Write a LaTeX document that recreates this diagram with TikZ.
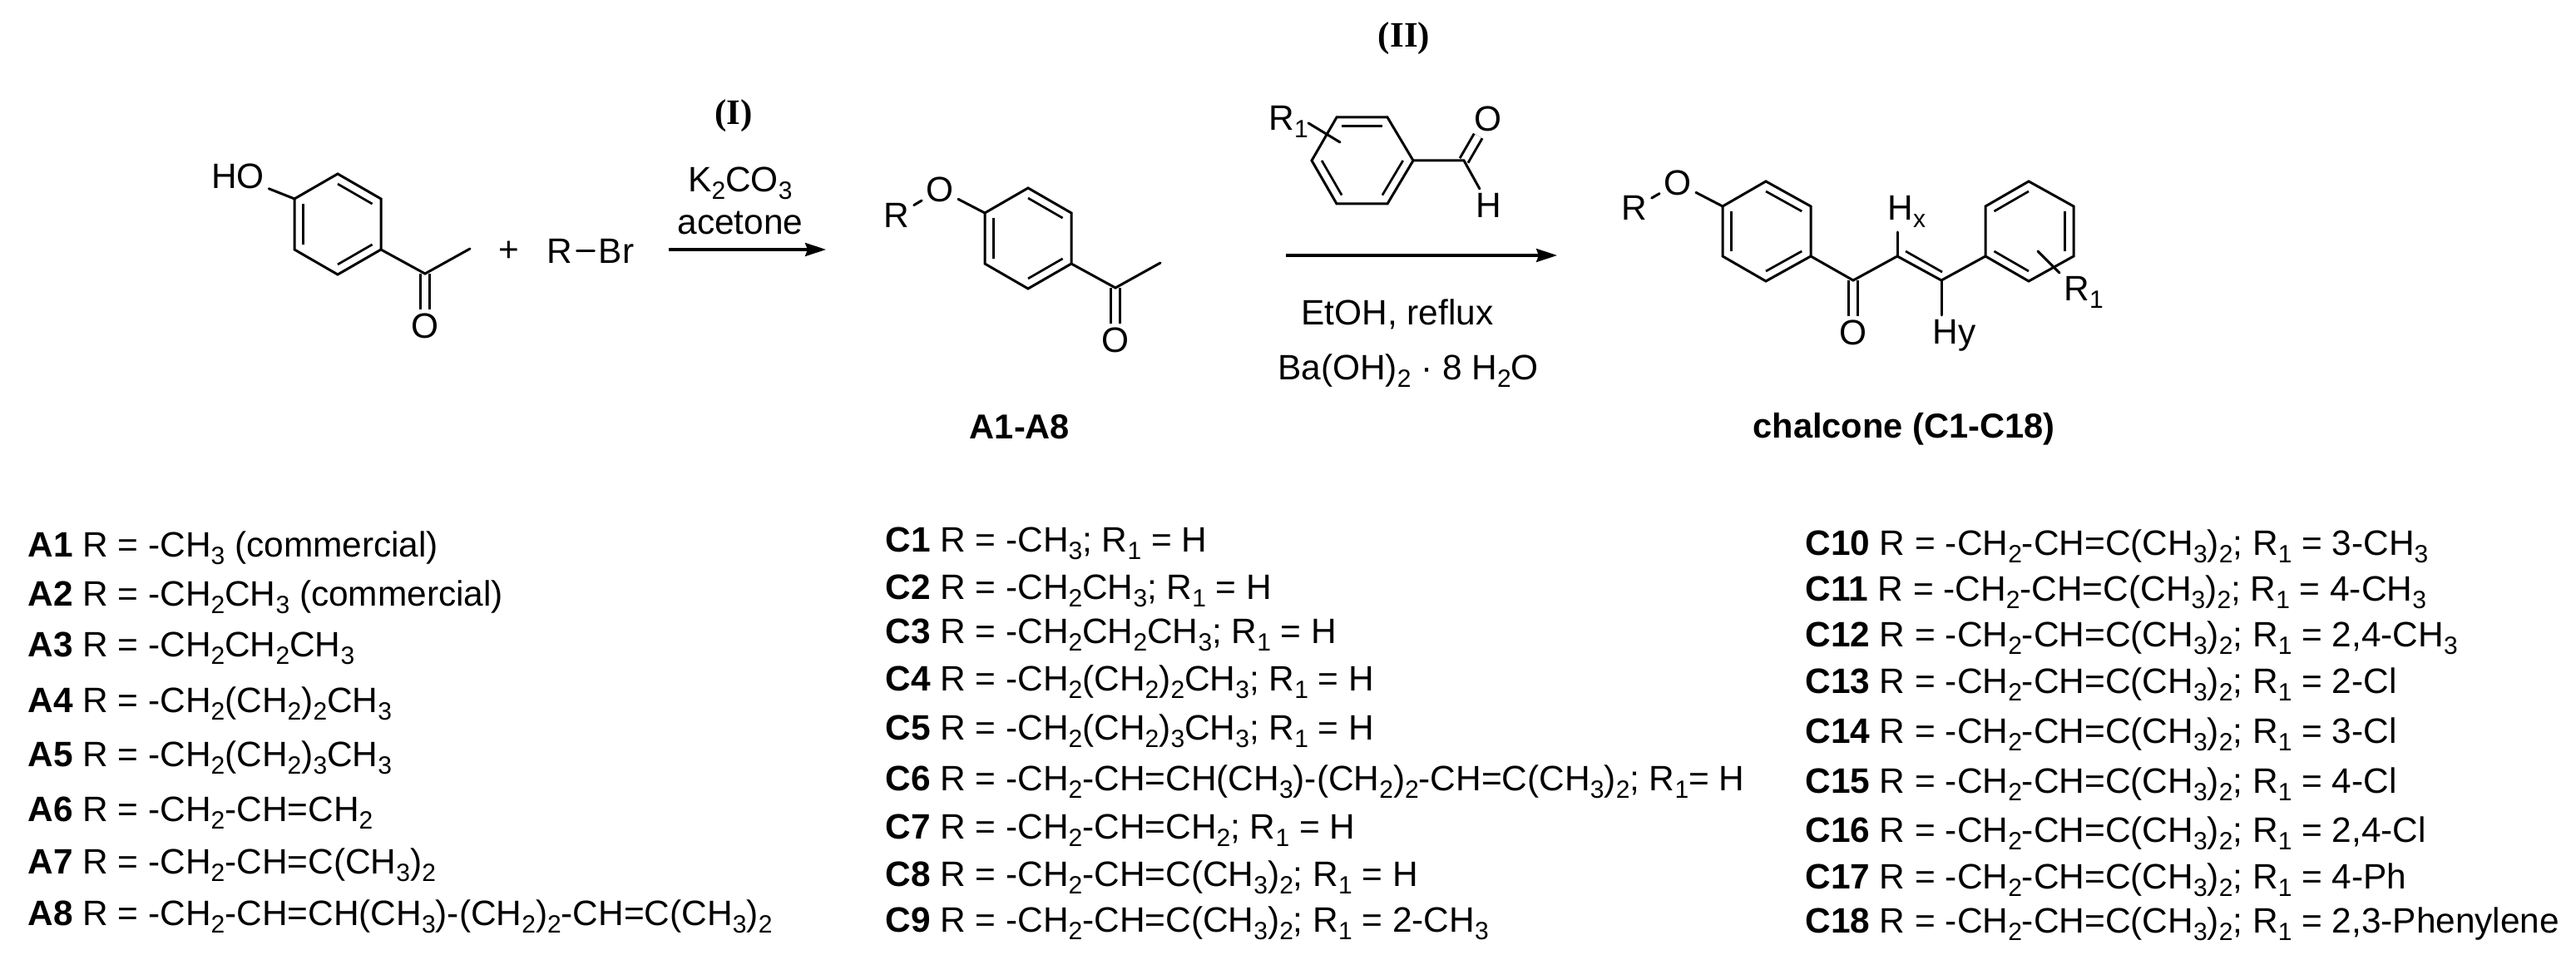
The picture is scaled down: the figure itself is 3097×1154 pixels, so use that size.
\documentclass[tikz,border=0pt]{standalone}
\usepackage{fontspec}
\setmainfont{Liberation Sans}
\newfontfamily\serifb[BoldFont={Liberation Serif Bold}]{Liberation Serif}
\usetikzlibrary{arrows.meta,calc}
\newcommand\lo[1]{\raisebox{-4.5pt}{\fontsize{15}{15}\selectfont #1}}
\newcommand\prenyl{-CH\lo2-CH=C(CH\lo3)\lo2}
\newcommand\geranyl{-CH\lo2-CH=CH(CH\lo3)-(CH\lo2)\lo2-CH=C(CH\lo3)\lo2}
\tikzset{
  bond/.style={line width=1.5pt,line cap=round,line join=miter},
  inbond/.style={line width=1.35pt},
  dblbond/.style={line width=1.5pt,draw=black,double=white,double distance=4.1pt},
  rxn/.style={line width=1.7pt,-{Stealth[length=12.5pt,width=8pt,inset=1.5pt]}},
  atom/.style={inner sep=2.5pt,font=\fontsize{21.2}{21.2}\selectfont},
  reag/.style={inner sep=0pt,font=\fontsize{21.2}{21.2}\selectfont},
  steplabel/.style={inner sep=0pt,font=\serifb\bfseries\fontsize{21.5}{21.5}\selectfont},
  title/.style={inner sep=0pt,font=\bfseries\fontsize{20.8}{20.8}\selectfont},
  row/.style={anchor=base west,inner sep=0pt,font=\fontsize{21.2}{21.2}\selectfont}
}
\newcommand\hexagon[7]{%
  \coordinate (#1a) at #2; \coordinate (#1b) at #3; \coordinate (#1c) at #4;
  \coordinate (#1d) at #5; \coordinate (#1e) at #6; \coordinate (#1f) at #7;
  \coordinate (#1m) at ($(#1a)!.5!(#1d)$);
  \draw[bond] (#1a)--(#1b)--(#1c)--(#1d)--(#1e)--(#1f)--cycle;
}
\newcommand\inner[3]{\draw[inbond] ($(#1#2)!.2!(#1m)$) -- ($(#1#3)!.2!(#1m)$);}
\begin{document}
\begin{tikzpicture}[x=0.5pt,y=-0.5pt]
\useasboundingbox (0,0) rectangle (3097,1154);

% 4-hydroxyacetophenone
\coordinate (pCO) at (511,329);
\coordinate (pMe) at (565,299);
\node[atom] (pOx) at (511,392) {O};
\draw[dblbond] (pCO) -- (pOx);
\hexagon{p}{(406,209)}{(458,239)}{(458,300)}{(406,330)}{(354,300)}{(354,239)}
\inner{p}{a}{b}\inner{p}{c}{d}\inner{p}{e}{f}
\node[atom] (ho) at (286,212) {HO};
\draw[bond] (ho) -- (pf);
\draw[bond] (pc) -- (pCO) -- (pMe);

% plus, R-Br
\node[reag] (plus) at (612,302) {+};
\node[atom] (rbrR) at (673,302) {R};
\node[atom] (rbrB) at (741,302) {Br};
\draw[bond] (rbrR) -- (rbrB);

% step I
\node[steplabel] (stepI) at (882,139) {(I)};
\node[reag] (k2co3) at (890,220) {K\lo2CO\lo3};
\node[reag] (acet) at (890,268) {acetone};
\coordinate (arrIs) at (804,300);
\coordinate (arrIe) at (993,300);
\draw[rxn] (arrIs) -- (arrIe);

% A1-A8
\coordinate (aCO) at (1341,346);
\coordinate (aMe) at (1395,316);
\node[atom] (aOx) at (1341,409) {O};
\draw[dblbond] (aCO) -- (aOx);
\hexagon{a}{(1236,226)}{(1288,256)}{(1288,317)}{(1236,347)}{(1184,317)}{(1184,256)}
\inner{a}{a}{b}\inner{a}{c}{d}\inner{a}{e}{f}
\node[atom] (aEth) at (1130,228) {O};
\node[atom] (aR) at (1078,259) {R};
\draw[bond] (aEth) -- (af);
\draw[bond] (aR) -- (aEth);
\draw[bond] (ac) -- (aCO) -- (aMe);
\node[title] (tA) at (1226,513) {A1-A8};

% benzaldehyde
\coordinate (bCO) at (1760,193);
\node[atom] (bOx) at (1789,143) {O};
\node[atom] (bH) at (1790,247) {H};
\draw[dblbond] (bCO) -- (bOx);
\hexagon{b}{(1607,141)}{(1668,141)}{(1699,193)}{(1668,245)}{(1607,245)}{(1577,193)}
\inner{b}{a}{b}\inner{b}{c}{d}\inner{b}{e}{f}
\draw[bond] (bc) -- (bCO) -- (bH);
\node[atom,anchor=base west] (bR) at (1520,157) {R\lo1};
\coordinate (bXs) at (1573,148);
\coordinate (bXe) at (1611,171);
\draw[bond] (bXs) -- (bXe);

% step II
\node[steplabel] (stepII) at (1688,46) {(II)};
\coordinate (arrIIs) at (1546,307);
\coordinate (arrIIe) at (1872,307);
\draw[rxn] (arrIIs) -- (arrIIe);
\node[reag] (etoh) at (1680,378) {EtOH, reflux};
\node[reag] (baoh) at (1693,446) {Ba(OH)\lo2 · 8 H\lo2O};

% chalcone
\coordinate (cCO) at (2228,337);
\node[atom] (cOx) at (2228,400) {O};
\draw[dblbond] (cCO) -- (cOx);
\hexagon{c}{(2123,218)}{(2177,248)}{(2177,308)}{(2123,338)}{(2071,308)}{(2071,248)}
\inner{c}{a}{b}\inner{c}{c}{d}\inner{c}{e}{f}
\node[atom] (cEth) at (2017,220) {O};
\node[atom] (cR) at (1965,250) {R};
\draw[bond] (cEth) -- (cf);
\draw[bond] (cR) -- (cEth);
\coordinate (cA) at (2281,308);
\coordinate (cB) at (2334,337);
\coordinate (cAi) at (2291,302);
\coordinate (cBi) at (2335,327);
\draw[bond] (cc) -- (cCO) -- (cA) -- (cB);
\draw[inbond] (cAi) -- (cBi);
\hexagon{d}{(2439,218)}{(2493,248)}{(2493,308)}{(2439,338)}{(2387,308)}{(2387,248)}
\inner{d}{a}{f}\inner{d}{b}{c}\inner{d}{d}{e}
\draw[bond] (cB) -- (de);
\node[atom,anchor=base west] (cHx) at (2264,265) {H\lo{x}};
\node[atom,anchor=base west] (cHy) at (2318,414) {Hy};
\coordinate (cHxb) at (2281,279);
\coordinate (cHyb) at (2334,379);
\draw[bond] (cA) -- (cHxb);
\draw[bond] (cB) -- (cHyb);
\coordinate (dXs) at (2450,302);
\coordinate (dXe) at (2476,328);
\draw[bond] (dXs) -- (dXe);
\node[atom,anchor=base west] (dR) at (2476,362) {R\lo1};
\node[title] (tC) at (2289,516) {chalcone (C1-C18)};

% A list
\node[row] (A1) at (33,669) {\textbf{A1} R = -CH\lo3 (commercial)};
\node[row] (A2) at (33,728) {\textbf{A2} R = -CH\lo2CH\lo3 (commercial)};
\node[row] (A3) at (33,789) {\textbf{A3} R = -CH\lo2CH\lo2CH\lo3};
\node[row] (A4) at (33,856) {\textbf{A4} R = -CH\lo2(CH\lo2)\lo2CH\lo3};
\node[row] (A5) at (33,921) {\textbf{A5} R = -CH\lo2(CH\lo2)\lo3CH\lo3};
\node[row] (A6) at (33,987) {\textbf{A6} R = -CH\lo2-CH=CH\lo2};
\node[row] (A7) at (33,1050) {\textbf{A7} R = \prenyl};
\node[row] (A8) at (33,1112) {\textbf{A8} R = \geranyl};

% C1-C9
\node[row] (C1) at (1064,663) {\textbf{C1} R = -CH\lo3; R\lo1 = H};
\node[row] (C2) at (1064,720) {\textbf{C2} R = -CH\lo2CH\lo3; R\lo1 = H};
\node[row] (C3) at (1064,773) {\textbf{C3} R = -CH\lo2CH\lo2CH\lo3; R\lo1 = H};
\node[row] (C4) at (1064,830) {\textbf{C4} R = -CH\lo2(CH\lo2)\lo2CH\lo3; R\lo1 = H};
\node[row] (C5) at (1064,889) {\textbf{C5} R = -CH\lo2(CH\lo2)\lo3CH\lo3; R\lo1 = H};
\node[row] (C6) at (1064,950) {\textbf{C6} R = \geranyl; R\lo1= H};
\node[row] (C7) at (1064,1008) {\textbf{C7} R = -CH\lo2-CH=CH\lo2; R\lo1 = H};
\node[row] (C8) at (1064,1065) {\textbf{C8} R = \prenyl; R\lo1 = H};
\node[row] (C9) at (1064,1120) {\textbf{C9} R = \prenyl; R\lo1 = 2-CH\lo3};

% C10-C18
\node[row] (C10) at (2170,667) {\textbf{C10} R = \prenyl; R\lo1 = 3-CH\lo3};
\node[row] (C11) at (2170,722) {\textbf{C11} R = \prenyl; R\lo1 = 4-CH\lo3};
\node[row] (C12) at (2170,777) {\textbf{C12} R = \prenyl; R\lo1 = 2,4-CH\lo3};
\node[row] (C13) at (2170,833) {\textbf{C13} R = \prenyl; R\lo1 = 2-Cl};
\node[row] (C14) at (2170,893) {\textbf{C14} R = \prenyl; R\lo1 = 3-Cl};
\node[row] (C15) at (2170,953) {\textbf{C15} R = \prenyl; R\lo1 = 4-Cl};
\node[row] (C16) at (2170,1012) {\textbf{C16} R = \prenyl; R\lo1 = 2,4-Cl};
\node[row] (C17) at (2170,1068) {\textbf{C17} R = \prenyl; R\lo1 = 4-Ph};
\node[row] (C18) at (2170,1121) {\textbf{C18} R = \prenyl; R\lo1 = 2,3-Phenylene};
\end{tikzpicture}
\end{document}
